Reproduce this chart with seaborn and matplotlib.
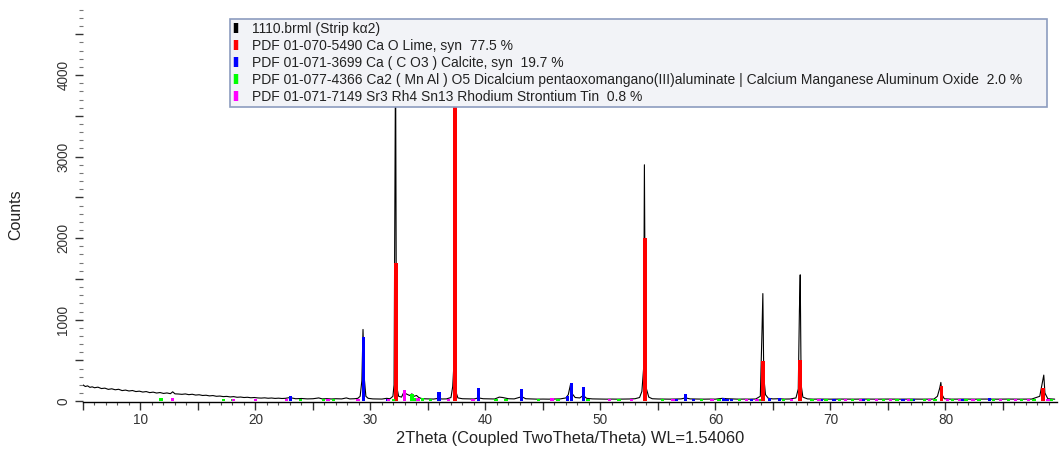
import numpy as np
import pandas as pd
import matplotlib
matplotlib.use("Agg")
import matplotlib.pyplot as plt
from matplotlib.lines import Line2D
from matplotlib.ticker import MultipleLocator, FuncFormatter
import seaborn as sns

# ---------------- data ----------------
scan_2theta = [5.0, 5.2, 5.4, 5.6, 5.8, 6.0, 6.3, 6.6, 6.9, 7.2, 7.5, 7.8, 8.1, 8.4, 8.7, 9.0,
               9.3, 9.6, 9.9, 10.2, 10.5, 10.8, 11.1, 11.4, 11.7, 12.0, 12.3, 12.6, 12.8, 13.0,
               13.3, 13.6, 13.9, 14.2, 14.5, 14.8, 15.1, 15.4, 15.7, 16.0, 16.3, 16.6, 16.9, 17.2,
               17.5, 17.8, 18.1, 18.4, 18.7, 19.0, 19.3, 19.6, 19.9, 20.2, 20.5, 20.8, 21.1, 21.4,
               21.7, 22.0, 22.3, 22.6, 23.0, 23.2, 23.5, 24.0, 24.5, 25.0, 25.5, 25.8, 26.2, 26.6,
               27.0, 27.5, 27.9, 28.2, 28.6, 28.9, 29.1, 29.25, 29.35, 29.45, 29.6, 29.8, 30.2,
               30.6, 31.0, 31.4, 31.7, 31.95, 32.05, 32.12, 32.18, 32.25, 32.32, 32.45, 32.7,
               32.9, 33.1, 33.4, 33.6, 33.8, 34.0, 34.2, 34.5, 35.0, 35.5, 35.9, 36.2, 36.6,
               37.0, 37.15, 37.25, 37.33, 37.42, 37.6, 38.0, 38.5, 39.0, 39.4, 39.8, 40.3, 40.8,
               41.2, 41.5, 42.0, 42.5, 43.15, 43.5, 44.0, 44.5, 45.0, 45.5, 46.0, 46.5, 47.0,
               47.2, 47.4, 47.55, 47.8, 48.2, 48.5, 48.8, 49.3, 50.0, 50.5, 51.0, 51.5, 52.0,
               52.5, 53.0, 53.4, 53.6, 53.75, 53.82, 53.9, 54.0, 54.2, 54.5, 55.0, 55.5, 56.0,
               56.5, 57.0, 57.4, 57.8, 58.5, 59.0, 59.5, 60.0, 60.6, 61.0, 61.5, 62.0, 62.5,
               63.0, 63.5, 63.9, 64.05, 64.12, 64.2, 64.35, 64.6, 65.0, 65.5, 66.0, 66.5, 67.0,
               67.2, 67.3, 67.37, 67.45, 67.6, 68.0, 68.5, 69.0, 70.0, 71.0, 72.0, 73.0, 74.0,
               75.0, 76.0, 77.0, 78.0, 79.0, 79.3, 79.5, 79.6, 79.7, 79.9, 80.5, 81.5, 82.5,
               83.5, 84.5, 85.5, 86.5, 87.5, 88.2, 88.45, 88.55, 88.65, 88.9, 89.5]
scan_counts = [200, 180, 188, 170, 176, 165, 172, 155, 160, 145, 152, 140, 146, 130, 136, 125,
               131, 118, 123, 112, 118, 105, 111, 100, 106, 95, 101, 92, 115, 90,
               88, 84, 89, 80, 85, 75, 79, 70, 73, 65, 69, 60, 63, 56,
               59, 52, 56, 48, 51, 45, 48, 42, 45, 40, 38, 41, 36, 39,
               34, 37, 33, 35, 45, 38, 30, 33, 28, 30, 40, 28, 31, 27,
               30, 28, 40, 28, 30, 35, 60, 250, 880, 300, 60, 35, 28,
               27, 26, 35, 30, 60, 200, 2330, 4300, 930, 150, 60, 50,
               110, 90, 70, 90, 60, 70, 45, 30, 28, 26, 35, 27, 28,
               45, 180, 440, 500, 120, 40, 30, 28, 27, 40, 30, 28, 27,
               50, 45, 30, 28, 55, 30, 27, 25, 26, 25, 26, 28, 40,
               80, 210, 90, 45, 40, 70, 35, 28, 26, 25, 26, 25, 26,
               27, 30, 45, 120, 400, 2900, 780, 150, 50, 30, 27, 26, 25,
               26, 28, 40, 28, 26, 25, 26, 25, 35, 30, 27, 25, 26,
               25, 27, 60, 880, 1320, 300, 80, 35, 28, 30, 26, 27, 40,
               150, 1110, 1550, 200, 50, 28, 25, 26, 25, 26, 25, 26, 25,
               26, 25, 26, 25, 26, 60, 160, 230, 80, 30, 25, 26, 25,
               26, 25, 26, 25, 26, 60, 250, 320, 100, 30, 25]

lime_2theta = [32.2, 37.35, 53.85, 64.15, 67.37, 79.65, 88.5]
lime_counts = [1700, 4300, 2000, 490, 510, 190, 160]

calcite_2theta = [23.05, 29.4, 31.45, 35.95, 39.4, 43.15, 47.1, 47.5, 48.5, 56.6, 57.4, 58.1,
                  60.7, 61.0, 61.4, 63.1, 64.7, 65.6, 69.2, 70.3, 72.9, 76.3, 77.2, 81.5,
                  83.8, 84.8]
calcite_counts = [60, 790, 30, 110, 165, 145, 60, 220, 170, 30, 85, 28,
                  45, 30, 28, 28, 45, 35, 28, 28, 30, 28, 28, 28,
                  35, 28]

mnal_2theta = [11.8, 17.2, 18.0, 23.9, 25.9, 26.8, 32.0, 33.6, 33.9, 34.5, 35.2, 40.9, 41.8,
               44.6, 46.3, 48.9, 51.6, 55.4, 58.8, 60.3, 62.1, 63.8, 65.9, 68.4, 69.6, 70.8,
               71.9, 73.3, 74.6, 75.8, 77.0, 78.2, 79.1, 80.6, 81.8, 82.9, 84.2, 85.5, 86.6,
               87.7, 89.2]
mnal_counts = [40, 30, 28, 28, 30, 28, 30, 85, 45, 35, 30, 28, 30,
               28, 30, 28, 28, 28, 30, 32, 28, 30, 28, 30, 28, 30,
               28, 30, 28, 30, 28, 30, 28, 30, 28, 30, 28, 30, 28,
               30, 28]

srrhsn_2theta = [12.8, 18.1, 20.0, 22.7, 26.3, 28.9, 31.55, 32.95, 34.15, 36.8, 38.9, 45.8,
                 50.8, 52.7, 56.3, 59.7, 62.7, 63.6, 66.6, 69.0, 71.3, 72.6, 74.0, 75.2,
                 76.8, 78.6, 80.2, 81.2, 82.4, 84.8, 86.1, 87.2, 88.9]
srrhsn_counts = [35, 32, 28, 28, 30, 30, 32, 135, 40, 30, 28, 35,
                 28, 30, 30, 28, 30, 30, 28, 30, 28, 30, 28, 30,
                 28, 30, 28, 30, 28, 30, 28, 30, 28]

legend_labels = [
    "1110.brml (Strip k\u03b12)",
    "PDF 01-070-5490 Ca O Lime, syn  77.5 %",
    "PDF 01-071-3699 Ca ( C O3 ) Calcite, syn  19.7 %",
    "PDF 01-077-4366 Ca2 ( Mn Al ) O5 Dicalcium pentaoxomangano(III)aluminate | Calcium Manganese Aluminum Oxide  2.0 %",
    "PDF 01-071-7149 Sr3 Rh4 Sn13 Rhodium Strontium Tin  0.8 %",
]
legend_colors = ["#000000", "#ff0000", "#0000ff", "#00ff00", "#ff00ff"]

x_label = "2Theta (Coupled TwoTheta/Theta) WL=1.54060"
y_label = "Counts"

# ---------------- plotting ----------------
sns.set_theme(style="ticks")
plt.rcParams["font.family"] = ["Liberation Sans", "DejaVu Sans"]

W, H = 1059, 454
fig = plt.figure(figsize=(W / 100, H / 100), dpi=100)
ax = fig.add_axes([83 / W, 1 - 402 / H, (1057 - 83) / W, (402 - 5) / H])

scan = pd.DataFrame({"2theta": scan_2theta, "counts": scan_counts})
sns.lineplot(data=scan, x="2theta", y="counts", color="black", linewidth=0.8,
             ax=ax, zorder=2, sort=False)

stick_sets = [
    (lime_2theta, lime_counts, legend_colors[1], 0.32),
    (calcite_2theta, calcite_counts, legend_colors[2], 0.28),
    (mnal_2theta, mnal_counts, legend_colors[3], 0.3),
    (srrhsn_2theta, srrhsn_counts, legend_colors[4], 0.3),
]
for xs, ys, col, w in stick_sets:
    ax.bar(xs, ys, width=w, color=col, linewidth=0, zorder=3)

ax.set_xlim(5, 89.7)
ax.set_ylim(-10, 4860)

ax.xaxis.set_major_locator(MultipleLocator(5))
ax.xaxis.set_minor_locator(MultipleLocator(1))
ax.xaxis.set_major_formatter(FuncFormatter(lambda v, p: f"{int(v)}" if int(round(v)) % 10 == 0 else ""))
ax.yaxis.set_major_locator(MultipleLocator(500))
ax.yaxis.set_minor_locator(MultipleLocator(100))
ax.yaxis.set_major_formatter(FuncFormatter(lambda v, p: f"{int(v)}" if int(round(v)) % 1000 == 0 else ""))

for s in ["top", "right", "left"]:
    ax.spines[s].set_visible(False)
ax.spines["bottom"].set_color("black")
ax.spines["bottom"].set_linewidth(1.0)

ax.tick_params(axis="x", which="major", direction="out", length=5.5, width=1, color="#333333",
               labelsize=9.8, labelcolor="#333333", pad=2.5)
ax.tick_params(axis="x", which="minor", direction="out", length=2.5, width=0.8, color="#555555")
ax.tick_params(axis="y", which="major", direction="out", length=5.5, width=1, color="#333333",
               labelsize=9.8, labelcolor="#333333", pad=3.5)
ax.tick_params(axis="y", which="minor", direction="out", length=2.8, width=0.8, color="#777777")
for lab in ax.get_yticklabels():
    lab.set_rotation(90)
    lab.set_va("center")

ax.set_xlabel(x_label, fontsize=11.8, color="#222222", labelpad=3)
ax.set_ylabel(y_label, fontsize=11.5, color="#222222")
ax.yaxis.set_label_coords(-0.0616, 0.471)
ax.grid(False)

handles = [Line2D([0], [0], color=c, marker="|", linestyle="none", markersize=7.5,
                  markeredgewidth=3.2) for c in legend_colors]
leg = fig.legend(handles, legend_labels, loc="upper left",
                 bbox_to_anchor=(230 / W, 1 - 105 / H, (1047 - 230) / W, (105 - 19) / H),
                 mode="expand", borderaxespad=0, fontsize=10, frameon=True, fancybox=False,
                 handlelength=0.5, handletextpad=0.85, labelspacing=0.22, borderpad=0.2,
                 labelcolor="#222222")
frame = leg.get_frame()
frame.set_facecolor("#f2f3f7")
frame.set_edgecolor("#8c9cbf")
frame.set_linewidth(1.2)
frame.set_alpha(1)
leg.set_zorder(10)

fig.savefig("out.png", dpi=100)
